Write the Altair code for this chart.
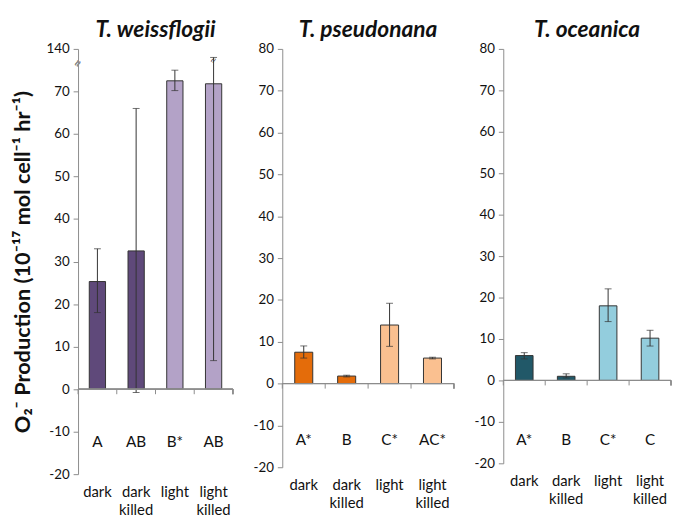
import altair as alt
import pandas as pd

cats = ["dark", "dark killed", "light", "light killed"]
shade = ["d", "d", "l", "l"]

tw_vals = [25.3, 32.5, 72.5, 71.8]
tw_lo = [18.0, -0.8, 70.2, 6.7]
tw_hi = [33.0, 66.0, 75.0, 78.0]
tw_letters = ["A", "AB", "B*", "AB"]

tp_vals = [7.5, 1.8, 14.0, 6.1]
tp_lo = [6.1, 1.6, 8.9, 5.9]
tp_hi = [9.0, 2.0, 19.2, 6.3]
tp_letters = ["A*", "B", "C*", "AC*"]

to_vals = [6.0, 1.0, 18.0, 10.2]
to_lo = [5.2, 0.6, 14.2, 8.3]
to_hi = [6.7, 1.6, 22.1, 12.1]
to_letters = ["A*", "B", "C*", "C"]

yticks = list(range(-20, 81, 10))
FONT = "Lato"
AXC = "#8c8c8c"


def panel(title, vals, lo, hi, letters, dark, light, w, h, letter_y, first=False):
    df = pd.DataFrame({"cat": cats, "val": vals, "lo": lo, "hi": hi,
                       "letter": letters, "shade": shade})
    base = alt.Chart(df)
    x = alt.X("cat:N", sort=cats,
              scale=alt.Scale(paddingInner=0, paddingOuter=0),
              axis=alt.Axis(title=None, labelExpr="split(datum.label, ' ')",
                            domain=False, ticks=False, labelAngle=0,
                            labelFontSize=15, labelPadding=11,
                            labelLineHeight=18, labelColor="#111",
                            labelFont=FONT))
    yaxis = dict(values=yticks, grid=False, domainColor=AXC, tickColor=AXC,
                 tickSize=5, labelFontSize=13.5, labelColor="#111",
                 labelFont=FONT, labelPadding=4,
                 labelExpr="replace(datum.label, '−', '-')")
    if first:
        yaxis["labelExpr"] = ("datum.value == 80 ? '140' : "
                              "replace(datum.label, '−', '-')")
        yaxis["title"] = "O₂⁻ Production (10⁻¹⁷ mol cell⁻¹ hr⁻¹)"
        yaxis["titleFontSize"] = 22
        yaxis["titleFontWeight"] = "bold"
        yaxis["titleFont"] = FONT
        yaxis["titleColor"] = "#111"
        yaxis["titlePadding"] = 12
    else:
        yaxis["title"] = None
    y = alt.Y("val:Q", scale=alt.Scale(domain=[-20, 80], nice=False),
              axis=alt.Axis(**yaxis))

    bars = base.mark_bar(width=alt.RelativeBandSize(0.42), stroke="#333",
                         strokeWidth=1).encode(
        x=x, y=y,
        color=alt.Color("shade:N", scale=alt.Scale(domain=["d", "l"],
                                                    range=[dark, light]),
                        legend=None))
    err = base.mark_rule(color="#333", strokeWidth=1).encode(
        x="cat:N", y="lo:Q", y2="hi:Q")
    cap_lo = base.mark_tick(color="#333", size=7, thickness=1).encode(
        x="cat:N", y="lo:Q")
    cap_hi = base.mark_tick(color="#333", size=7, thickness=1).encode(
        x="cat:N", y="hi:Q")
    zero = base.mark_rule(color=AXC, strokeWidth=1).encode(
        y=alt.datum(0), x=alt.value(0), x2=alt.value(w))
    ticks = base.mark_rule(color=AXC, strokeWidth=1).encode(
        x=alt.X("cat:N", bandPosition=0), y=alt.datum(0), y2=alt.datum(-1.2))
    end_tick = base.mark_rule(color=AXC, strokeWidth=1).encode(
        x=alt.value(w), y=alt.datum(0), y2=alt.datum(-1.2))
    text = base.mark_text(fontSize=15.5, font=FONT, color="#111",
                          baseline="middle").encode(
        x="cat:N", y=alt.datum(letter_y), text="letter:N")
    layers = [bars, err, cap_lo, cap_hi, zero, ticks, end_tick, text]
    if first:
        brk = base.mark_text(fontSize=11, color=AXC, text="≈", angle=300).encode(
            x=alt.value(0), y=alt.datum(76.5))
        brk2 = base.transform_filter("datum.cat == 'light killed'").mark_text(
            fontSize=10, color="#333", text="≈", angle=300).encode(
            x="cat:N", y=alt.datum(77.3))
        layers += [brk, brk2]
    return alt.layer(*layers).properties(
        width=w, height=h,
        title=alt.Title(title, fontSize=23, fontWeight="bold",
                        fontStyle="italic", font=FONT, color="#111",
                        offset=0))


p1 = panel("T. weissflogii", tw_vals, tw_lo, tw_hi, tw_letters,
           "#5F497A", "#B3A2C7", 157, 431, -12.5, first=True)
p2 = panel("T. pseudonana", tp_vals, tp_lo, tp_hi, tp_letters,
           "#E46C0A", "#FAC090", 174, 424, -13.5)
p3 = panel("T. oceanica", to_vals, to_lo, to_hi, to_letters,
           "#215868", "#93CDDD", 170, 420, -14.5)

chart = alt.hconcat(p1, p2, p3, spacing=19).resolve_scale(
    color="independent").configure_view(stroke=None).properties(
    padding={"top": 8, "left": 3, "right": 0, "bottom": 0},
    background="white")
chart.save("out.html", embed_options={"renderer": "svg", "actions": False})
